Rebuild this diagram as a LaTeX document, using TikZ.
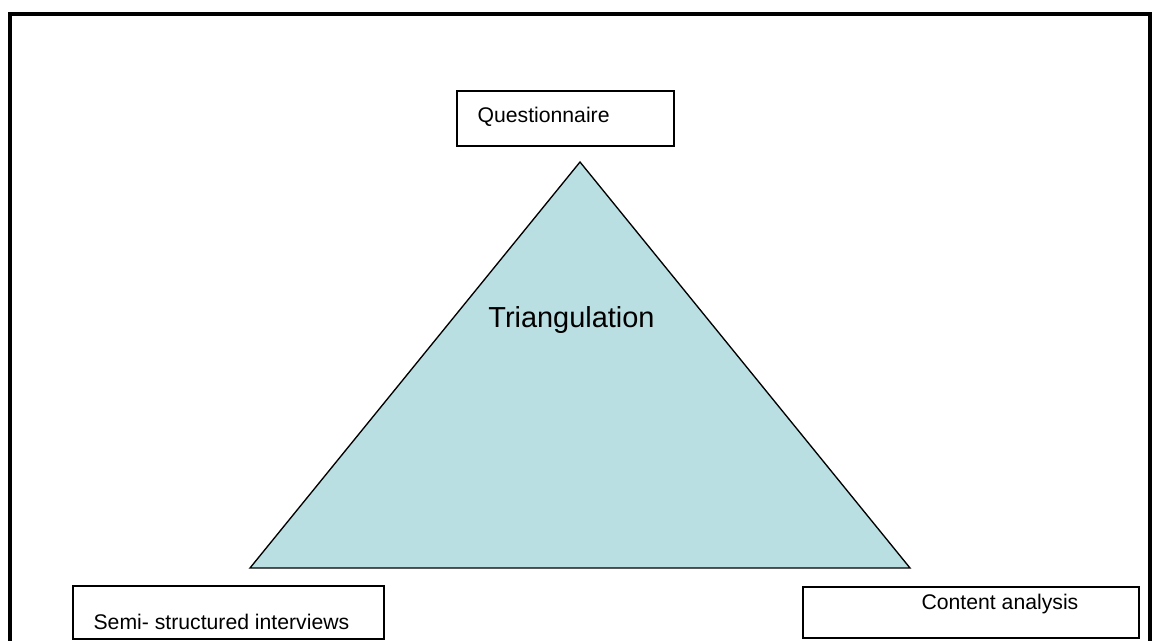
\documentclass[tikz,border=0pt]{standalone}
\usepackage{fontspec}
\setmainfont{Liberation Sans}
\usetikzlibrary{positioning}
\definecolor{triblue}{RGB}{185,223,226}

\begin{document}
\begin{tikzpicture}[x=0.75pt, y=-0.75pt,
    box/.style={draw, line width=1pt, inner sep=0pt, font=\fontsize{15.9}{19}\selectfont},
    tri/.style={draw, line width=1pt, fill=triblue, line join=miter}]
    \useasboundingbox (0,0) rectangle (1162,641);
    \draw[line width=3pt] (10,650) -- (10,14) -- (1150,14) -- (1150,650);
    \coordinate (t_top) at (580,162);
    \coordinate (t_left) at (250,568);
    \coordinate (t_right) at (910,568);
    \filldraw[tri] (t_top) -- (t_left) -- (t_right) -- cycle;
    \node[font=\fontsize{21.7}{26}\selectfont, anchor=base] (tri_lbl) at (571.5,327) {Triangulation};
    % boxes at the corners
    \node[box, minimum width=217*0.75pt, minimum height=55*0.75pt] (q_box) at (565.5,118.5) {};
    \node[box, minimum width=311*0.75pt, minimum height=53*0.75pt] (s_box) at (228.5,612.5) {};
    \node[box, minimum width=336*0.75pt, minimum height=51*0.75pt] (c_box) at (971,612.5) {};
    \node[anchor=base west, inner sep=0pt, font=\fontsize{15.9}{19}\selectfont] (q_lbl) at ([shift={(21,-24)}]q_box.south west) {Questionnaire};
    \node[anchor=base west, inner sep=0pt, font=\fontsize{15.9}{19}\selectfont] (s_lbl) at ([shift={(21,-10)}]s_box.south west) {Semi- structured interviews};
    \node[anchor=base west, inner sep=0pt, font=\fontsize{15.9}{19}\selectfont] (c_lbl) at ([shift={(119,-29)}]c_box.south west) {Content analysis};
\end{tikzpicture}
\end{document}
